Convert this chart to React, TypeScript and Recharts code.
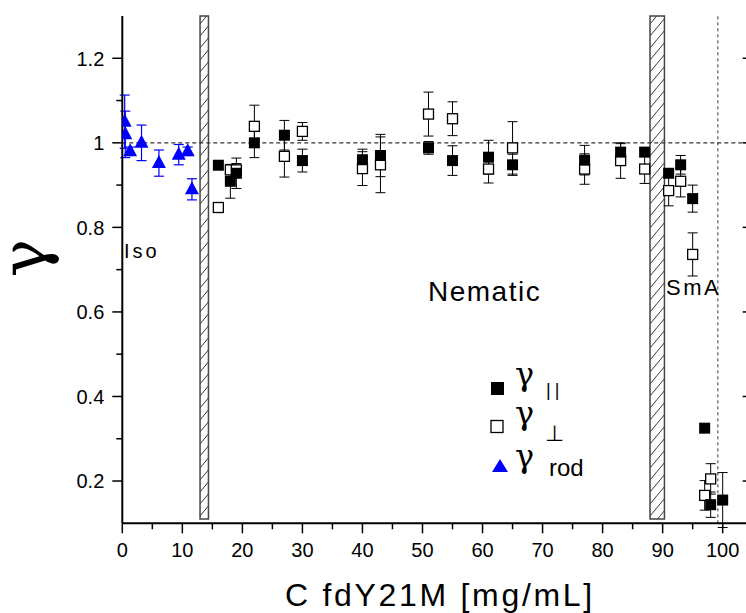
import React from 'react';
import { ScatterChart, Scatter, XAxis, YAxis, ErrorBar, ReferenceArea, ReferenceLine } from 'recharts';

// gamma_rod (blue triangles)
const rodX = [0.4, 0.5, 1.3, 3.2, 6.1, 9.4, 10.9, 11.6];
const rodY = [1.05, 1.02, 0.98, 1.0, 0.952, 0.972, 0.98, 0.89];
const rodErr = [0.063, 0.055, 0.01, 0.042, 0.031, 0.024, 0.01, 0.025];

// gamma_parallel (filled squares)
const parX = [16, 18, 19, 22, 27, 30, 40, 43, 51, 55, 61, 65, 77, 83, 87, 91, 93, 95, 97, 98, 100];
const parY = [0.947, 0.909, 0.928, 1.0, 1.018, 0.958, 0.96, 0.97, 0.988, 0.958, 0.966, 0.948, 0.959, 0.978, 0.978, 0.928, 0.948, 0.868, 0.325, 0.144, 0.155];
const parErr = [0.008, 0.04, 0.036, 0.035, 0.035, 0.027, 0.025, 0.05, 0.015, 0.035, 0.04, 0.025, 0.035, 0.02, 0.01, 0.01, 0.022, 0.032, 0.01, 0.03, 0.065];

// gamma_perp (open squares)
const perpX = [16, 18, 19, 22, 27, 30, 40, 43, 51, 55, 61, 65, 77, 83, 87, 91, 93, 95, 97, 98];
const perpY = [0.847, 0.936, 0.936, 1.039, 0.968, 1.027, 0.939, 0.948, 1.068, 1.057, 0.938, 0.988, 0.938, 0.958, 0.938, 0.887, 0.909, 0.736, 0.166, 0.205];
const perpErr = [0.005, 0.01, 0.015, 0.05, 0.049, 0.021, 0.04, 0.066, 0.052, 0.04, 0.033, 0.062, 0.036, 0.042, 0.034, 0.036, 0.037, 0.051, 0.035, 0.036];

// phase boundaries (hatched) and transition line
const isoNemBand = [12.95, 14.35];
const nemSmaBand = [87.9, 90.3];
const smaLimit = 99.2;

const xTicks = [0, 5, 10, 15, 20, 25, 30, 35, 40, 45, 50, 55, 60, 65, 70, 75, 80, 85, 90, 95, 100];
const xMajor = [0, 10, 20, 30, 40, 50, 60, 70, 80, 90, 100];
const xTickLabels = ['0', '10', '20', '30', '40', '50', '60', '70', '80', '90', '100'];
const yTicks = [0.2, 0.3, 0.4, 0.5, 0.6, 0.7, 0.8, 0.9, 1.0, 1.1, 1.2];
const yMajor = [0.2, 0.4, 0.6, 0.8, 1.0, 1.2];
const yTickLabels = ['0.2', '0.4', '0.6', '0.8', '1', '1.2'];

const build = (xs: number[], ys: number[], es: number[]) => xs.map((x, i) => ({ x, y: ys[i], err: es[i] }));
const rodData = build(rodX, rodY, rodErr);
const parData = build(parX, parY, parErr);
const perpData = build(perpX, perpY, perpErr);

const SANS = '"Liberation Sans", Arial, sans-serif';
const SERIF = '"DejaVu Serif", "Liberation Serif", serif';

const BottomTick = (p: any) => {
  const v = p.payload.value;
  const idx = xMajor.indexOf(v);
  const major = idx >= 0;
  return (
    <g>
      <line x1={p.x} x2={p.x} y1={p.y} y2={p.y + (major ? 10 : 6)} stroke="#000" strokeWidth={1.5} />
      {major && (
        <text x={p.x} y={p.y + 34} textAnchor="middle" fontSize={20} fontFamily={SANS} fill="#000">
          {xTickLabels[idx]}
        </text>
      )}
    </g>
  );
};

const TopTick = (p: any) => {
  const v = p.payload.value;
  const major = xMajor.indexOf(v) >= 0;
  return <line x1={p.x} x2={p.x} y1={p.y} y2={p.y + (major ? 9 : 5)} stroke="#000" strokeWidth={1.5} />;
};

const LeftTick = (p: any) => {
  const v = p.payload.value;
  const idx = yMajor.findIndex((m) => Math.abs(m - v) < 1e-6);
  const major = idx >= 0;
  return (
    <g>
      <line x1={p.x - (major ? 10 : 6)} x2={p.x} y1={p.y} y2={p.y} stroke="#000" strokeWidth={1.5} />
      {major && (
        <text x={p.x - 18} y={p.y + 7.3} textAnchor="end" fontSize={20} fontFamily={SANS} fill="#000">
          {yTickLabels[idx]}
        </text>
      )}
    </g>
  );
};

const RightTick = (p: any) => {
  const v = p.payload.value;
  const major = yMajor.findIndex((m) => Math.abs(m - v) < 1e-6) >= 0;
  return <line x1={p.x - (major ? 10 : 6)} x2={p.x} y1={p.y} y2={p.y} stroke="#000" strokeWidth={1.5} />;
};

const FilledSquare = (p: any) => <rect x={p.cx - 5.5} y={p.cy - 5.5} width={11} height={11} fill="#000" />;
const OpenSquare = (p: any) => (
  <rect x={p.cx - 5} y={p.cy - 5} width={10} height={10} fill="#fff" stroke="#000" strokeWidth={1.3} />
);
const Triangle = (p: any) => (
  <polygon points={`${p.cx},${p.cy - 8} ${p.cx - 7},${p.cy + 5} ${p.cx + 7},${p.cy + 5}`} fill="#0000ff" />
);

export default function App() {
  return (
    <div style={{ position: 'absolute', left: 0, top: 0, width: 746, height: 613, overflow: 'hidden', background: '#fff' }}>
      <svg width={0} height={0} style={{ position: 'absolute' }}>
        <defs>
          <pattern id="hatch" patternUnits="userSpaceOnUse" width={10} height={12}>
            <rect x={0} y={0} width={10} height={12} fill="#fff" />
            <line x1={0} y1={12} x2={10} y2={0} stroke="#333" strokeWidth={1} />
          </pattern>
        </defs>
      </svg>
      <ScatterChart width={754} height={613} margin={{ top: 16, right: 0, bottom: 0, left: 0 }}>
        <XAxis
          type="number"
          dataKey="x"
          domain={[0, 105]}
          ticks={xTicks}
          interval={0}
          allowDataOverflow
          height={89.7}
          tickSize={0}
          tickMargin={0}
          tickLine={false}
          tick={<BottomTick />}
          axisLine={{ stroke: '#000', strokeWidth: 2 }}
        />
        <XAxis
          xAxisId="top"
          orientation="top"
          type="number"
          domain={[0, 105]}
          ticks={xTicks}
          interval={0}
          allowDataOverflow
          height={0}
          tickSize={0}
          tickMargin={0}
          tickLine={false}
          tick={<TopTick />}
          axisLine={{ stroke: '#000', strokeWidth: 2 }}
        />
        <YAxis
          type="number"
          dataKey="y"
          domain={[0.1, 1.3]}
          ticks={yTicks}
          interval={0}
          allowDataOverflow
          width={122.3}
          tickSize={0}
          tickMargin={0}
          tickLine={false}
          tick={<LeftTick />}
          axisLine={{ stroke: '#000', strokeWidth: 2 }}
        />
        <YAxis
          yAxisId="r"
          orientation="right"
          type="number"
          domain={[0.1, 1.3]}
          ticks={yTicks}
          interval={0}
          allowDataOverflow
          width={1.3}
          tickSize={0}
          tickMargin={0}
          tickLine={false}
          tick={<RightTick />}
          axisLine={{ stroke: '#000', strokeWidth: 2 }}
        />
        <ReferenceLine y={1} stroke="#333" strokeWidth={1.2} strokeDasharray="4 3" />
        <ReferenceLine x={smaLimit} stroke="#333" strokeWidth={1} strokeDasharray="3 3" />
        <ReferenceArea x1={isoNemBand[0]} x2={isoNemBand[1]} y1={0.11} y2={1.3} fill="url(#hatch)" fillOpacity={1} stroke="#444" strokeWidth={1.5} />
        <ReferenceArea x1={nemSmaBand[0]} x2={nemSmaBand[1]} y1={0.11} y2={1.3} fill="url(#hatch)" fillOpacity={1} stroke="#444" strokeWidth={1.5} />
        <Scatter name="rod" data={rodData} shape={<Triangle />} isAnimationActive={false}>
          <ErrorBar dataKey="err" direction="y" width={5} stroke="#0000ff" strokeWidth={1.2} />
        </Scatter>
        <Scatter name="perp" data={perpData} shape={<OpenSquare />} isAnimationActive={false}>
          <ErrorBar dataKey="err" direction="y" width={5} stroke="#000" strokeWidth={1} />
        </Scatter>
        <Scatter name="par" data={parData} shape={<FilledSquare />} isAnimationActive={false}>
          <ErrorBar dataKey="err" direction="y" width={5} stroke="#000" strokeWidth={1} />
        </Scatter>
      </ScatterChart>
      <svg width={746} height={613} style={{ position: 'absolute', left: 0, top: 0, pointerEvents: 'none' }}>
        <text transform="translate(46,258) rotate(-90)" textAnchor="middle" fontSize={64} fontFamily={SERIF} fill="#000">γ</text>
        <text x={285} y={606} fontSize={32} letterSpacing={2.7} fontFamily={SANS} fill="#000">C fdY21M [mg/mL]</text>
        <text x={124} y={258} fontSize={20} letterSpacing={3} fontFamily={SANS} fill="#000">Iso</text>
        <text x={428} y={301} fontSize={28} letterSpacing={1.5} fontFamily={SANS} fill="#000">Nematic</text>
        <text x={666} y={295} fontSize={22} letterSpacing={2.5} fontFamily={SANS} fill="#000">SmA</text>
        <rect x={491} y={382} width={13} height={13} fill="#000" />
        <text x={515} y={385} fontSize={32} fontFamily={SERIF} fill="#000">γ</text>
        <text x={546} y={396} fontSize={18} letterSpacing={4} fontFamily={SANS} fill="#000">||</text>
        <rect x={491} y={420.5} width={12} height={12} fill="#fff" stroke="#000" strokeWidth={1.3} />
        <text x={515} y={424} fontSize={32} fontFamily={SERIF} fill="#000">γ</text>
        <text x={545} y={441} fontSize={22} fontFamily='"DejaVu Sans", sans-serif' fill="#000">⊥</text>
        <polygon points="500,459 492,472 508,472" fill="#0000ff" />
        <text x={515} y={467} fontSize={32} fontFamily={SERIF} fill="#000">γ</text>
        <text x={549} y={476} fontSize={24} fontFamily={SANS} fill="#000">rod</text>
      </svg>
    </div>
  );
}
